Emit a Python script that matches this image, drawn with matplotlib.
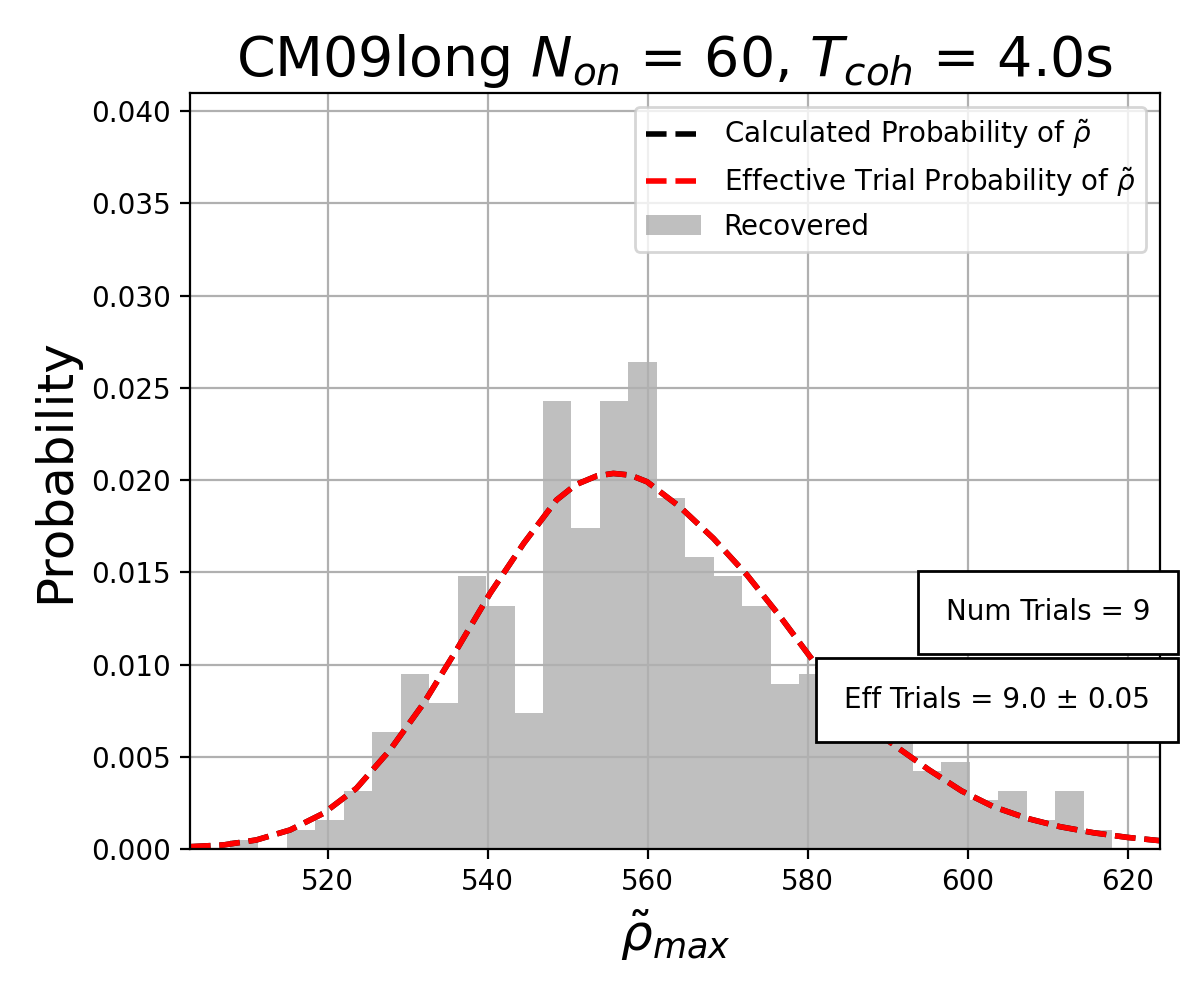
import numpy as np
import matplotlib
matplotlib.use("Agg")
import matplotlib.pyplot as plt

# Histogram of recovered rho_max (density)
bin_lo, bin_hi, n_bins = 507.8, 618.0, 31
recovered_density = [0.00049, 0.0, 0.00103, 0.00157, 0.00314, 0.00634, 0.00948,
                     0.00793, 0.0148, 0.01317, 0.00739, 0.02428, 0.01738, 0.02428,
                     0.0264, 0.01904, 0.01583, 0.0148, 0.01317, 0.00896, 0.00948,
                     0.0085, 0.0069, 0.0063, 0.00424, 0.00472, 0.00264, 0.00316,
                     0.00158, 0.00316, 0.00103]

# Probability curve (calculated == effective-trial curve)
curve_x = [502.8, 507.0, 511.1, 515.3, 519.5, 523.6, 527.8, 532.0, 536.1, 540.3,
           544.5, 548.6, 551.0, 553.6, 555.7, 557.8, 559.9, 564.0, 568.2, 572.4,
           576.5, 580.3, 583.0, 585.0, 587.0, 589.0, 591.2, 595.1, 599.2, 603.2,
           607.4, 611.5, 615.7, 619.9, 624.0]
curve_calc = [0.000125, 0.00022, 0.00049, 0.00103, 0.00194, 0.00329, 0.00537, 0.0079,
              0.01079, 0.01386, 0.01657, 0.01892, 0.01975, 0.02022, 0.02036, 0.02027,
              0.01991, 0.01855, 0.01684, 0.01485, 0.01262, 0.01041, 0.0089, 0.0079,
              0.0070, 0.0062, 0.0055, 0.0043, 0.00315, 0.00229, 0.00166, 0.00121,
              0.00088, 0.00063, 0.00045]
curve_eff = list(curve_calc)

title = r"CM09long $N_{on}$ = 60, $T_{coh}$ = 4.0s"
num_trials_text = "Num Trials = 9"
eff_trials_text = "Eff Trials = 9.0 ± 0.05"

fig = plt.figure(figsize=(6, 5), dpi=200)
ax = fig.add_axes([0.1583, 0.151, 0.8084, 0.7563])

edges = np.linspace(bin_lo, bin_hi, n_bins + 1)
centers = 0.5 * (edges[:-1] + edges[1:])

ax.plot(curve_x, curve_calc, 'k--', lw=2, label=r"Calculated Probability of $\tilde{\rho}$")
ax.plot(curve_x, curve_eff, 'r--', lw=2, label=r"Effective Trial Probability of $\tilde{\rho}$")
ax.hist(centers, bins=edges, weights=recovered_density, color='gray', alpha=0.5,
        label="Recovered")

ax.set_xlim(curve_x[0], curve_x[-1])
ax.set_ylim(0, 0.041)
ax.set_xticks([520, 540, 560, 580, 600, 620])
ax.set_yticks(np.arange(0, 0.0401, 0.005))
ax.yaxis.set_major_formatter(matplotlib.ticker.FormatStrFormatter('%.3f'))
ax.grid(True)

ax.set_title(title, fontsize=20)
ax.set_xlabel(r"$\tilde{\rho}_{max}$", fontsize=18)
ax.set_ylabel("Probability", fontsize=18)
ax.legend(loc='upper right')

ax.text(0.9897, 0.313, num_trials_text, transform=ax.transAxes, ha='right', va='center',
        fontsize=10, bbox=dict(facecolor='white', edgecolor='black', pad=10))
ax.text(0.9897, 0.197, eff_trials_text, transform=ax.transAxes, ha='right', va='center',
        fontsize=10, bbox=dict(facecolor='white', edgecolor='black', pad=10))

fig.savefig("out.png", dpi=200)
